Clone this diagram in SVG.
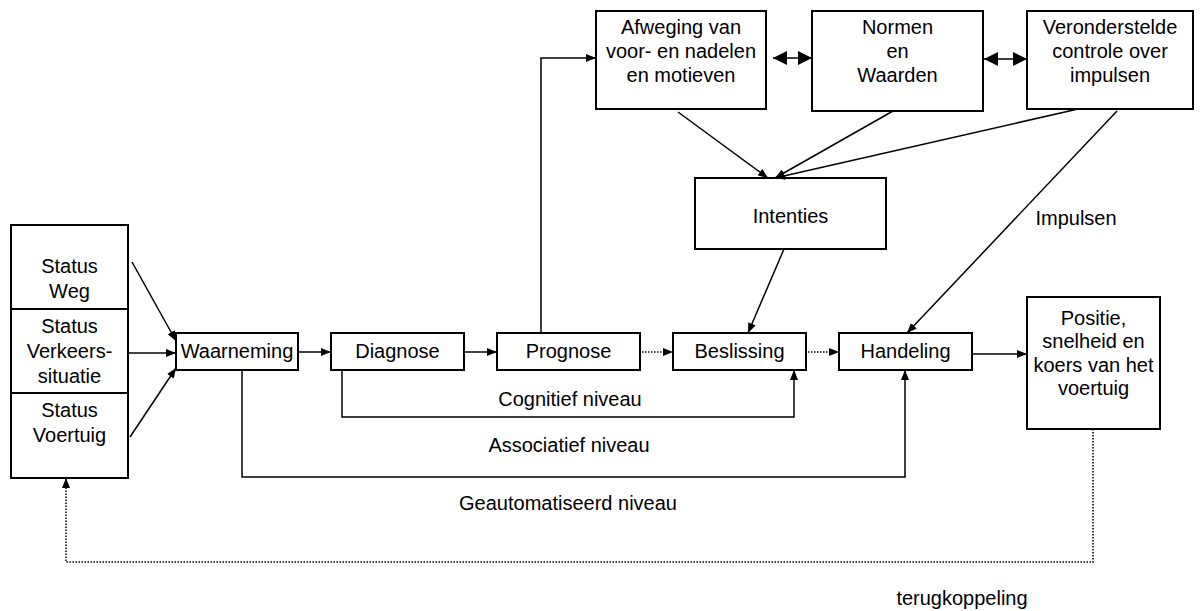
<svg xmlns="http://www.w3.org/2000/svg" width="1204" height="611" viewBox="0 0 1204 611">
<style>
  .box { fill: #fff; stroke: #000; stroke-width: 2; }
  .t { font-family: "Liberation Sans", Arial, sans-serif; font-size: 20px; fill: #000; text-anchor: middle; }
  .c { fill: none; stroke: #000; stroke-width: 1.5; }
  .dot { fill: none; stroke: #000; stroke-width: 1.5; stroke-dasharray: 1.5 1.5; }
</style>
<defs>
  <marker id="arr" viewBox="0 0 10 8" refX="10" refY="4" markerWidth="10" markerHeight="8" markerUnits="userSpaceOnUse" orient="auto">
    <path d="M0,0 L10,4 L0,8 z" fill="#000"/>
  </marker>
  <marker id="big" viewBox="0 0 14 14" refX="14" refY="7" markerWidth="14" markerHeight="14" markerUnits="userSpaceOnUse" orient="auto-start-reverse">
    <path d="M0,0 L14,7 L0,14 z" fill="#000"/>
  </marker>
</defs>
<rect width="1204" height="611" fill="#fff"/>

<g id="status">
  <rect class="box" x="11" y="225" width="117" height="253"/>
  <line x1="11" y1="309" x2="128" y2="309" stroke="#000" stroke-width="2"/>
  <line x1="11" y1="393" x2="128" y2="393" stroke="#000" stroke-width="2"/>
  <text class="t" x="69.5" y="273">Status</text>
  <text class="t" x="69.5" y="298">Weg</text>
  <text class="t" x="69.5" y="333">Status</text>
  <text class="t" x="69.5" y="358">Verkeers-</text>
  <text class="t" x="69.5" y="383">situatie</text>
  <text class="t" x="69.5" y="417">Status</text>
  <text class="t" x="69.5" y="442">Voertuig</text>
</g>
<g id="waarneming">
  <rect class="box" x="176" y="333" width="122" height="37"/>
  <text class="t" x="237" y="358">Waarneming</text>
</g>
<g id="diagnose">
  <rect class="box" x="331" y="333" width="133" height="37"/>
  <text class="t" x="397.5" y="358">Diagnose</text>
</g>
<g id="prognose">
  <rect class="box" x="497" y="333" width="143" height="37"/>
  <text class="t" x="568.5" y="358">Prognose</text>
</g>
<g id="beslissing">
  <rect class="box" x="673" y="333" width="133" height="37"/>
  <text class="t" x="739.5" y="358">Beslissing</text>
</g>
<g id="handeling">
  <rect class="box" x="839" y="333" width="133" height="37"/>
  <text class="t" x="905.5" y="358">Handeling</text>
</g>
<g id="positie">
  <rect class="box" x="1027" y="297" width="133" height="132"/>
  <text class="t" x="1093.5" y="325">Positie,</text>
  <text class="t" x="1093.5" y="348">snelheid en</text>
  <text class="t" x="1093.5" y="372">koers van het</text>
  <text class="t" x="1093.5" y="395">voertuig</text>
</g>
<g id="afweging">
  <rect class="box" x="596" y="11" width="170" height="98"/>
  <text class="t" x="681" y="34">Afweging van</text>
  <text class="t" x="681" y="58">voor- en nadelen</text>
  <text class="t" x="681" y="82">en motieven</text>
</g>
<g id="normen">
  <rect class="box" x="812" y="11" width="171" height="100"/>
  <text class="t" x="897.5" y="34">Normen</text>
  <text class="t" x="897.5" y="58">en</text>
  <text class="t" x="897.5" y="82">Waarden</text>
</g>
<g id="veronderstelde">
  <rect class="box" x="1027" y="11" width="166" height="98"/>
  <text class="t" x="1110" y="34">Veronderstelde</text>
  <text class="t" x="1110" y="58">controle over</text>
  <text class="t" x="1110" y="82">impulsen</text>
</g>
<g id="intenties">
  <rect class="box" x="695" y="178" width="191" height="71"/>
  <text class="t" x="790.5" y="223">Intenties</text>
</g>

<g id="connectors">
  <line class="c" x1="132" y1="262" x2="176" y2="341" marker-end="url(#arr)"/>
  <line class="c" x1="128" y1="353" x2="176" y2="353" marker-end="url(#arr)"/>
  <line class="c" x1="130" y1="437" x2="176" y2="368" marker-end="url(#arr)"/>
  <line class="c" x1="298" y1="352" x2="331" y2="352" marker-end="url(#arr)"/>
  <line class="c" x1="464" y1="352" x2="497" y2="352" marker-end="url(#arr)"/>
  <line class="dot" x1="642" y1="352" x2="673" y2="352" marker-end="url(#arr)"/>
  <line class="dot" x1="808" y1="352" x2="839" y2="352" marker-end="url(#arr)"/>
  <line class="c" x1="972" y1="354" x2="1027" y2="354" marker-end="url(#arr)"/>
  <polyline class="c" points="541,333 541,58 596,58" marker-end="url(#arr)"/>
  <line class="c" x1="773" y1="58" x2="812" y2="58" stroke-width="2" marker-start="url(#big)" marker-end="url(#big)"/>
  <line class="c" x1="984" y1="59" x2="1027" y2="59" stroke-width="2" marker-start="url(#big)" marker-end="url(#big)"/>
  <line class="c" x1="678" y1="112" x2="768" y2="178" marker-end="url(#arr)"/>
  <line class="c" x1="893" y1="111" x2="775" y2="178" marker-end="url(#arr)"/>
  <line class="c" x1="1078" y1="109" x2="775" y2="178" marker-end="url(#arr)"/>
  <line class="c" x1="1117" y1="111" x2="907" y2="333" marker-end="url(#arr)"/>
  <line class="c" x1="784" y1="249" x2="748" y2="333" marker-end="url(#arr)"/>
  <polyline class="c" points="342,370 342,417 794,417 794,370" marker-end="url(#arr)"/>
  <polyline class="c" points="242,370 242,477 905,477 905,370" marker-end="url(#arr)"/>
  <polyline class="dot" points="1093,429 1093,562 66,562 66,478" marker-end="url(#arr)"/>
  <text class="t" x="570" y="406">Cognitief niveau</text>
  <text class="t" x="569" y="452">Associatief niveau</text>
  <text class="t" x="568" y="510">Geautomatiseerd niveau</text>
  <text class="t" x="1076" y="225">Impulsen</text>
  <text class="t" x="962" y="605">terugkoppeling</text>
</g>
</svg>
